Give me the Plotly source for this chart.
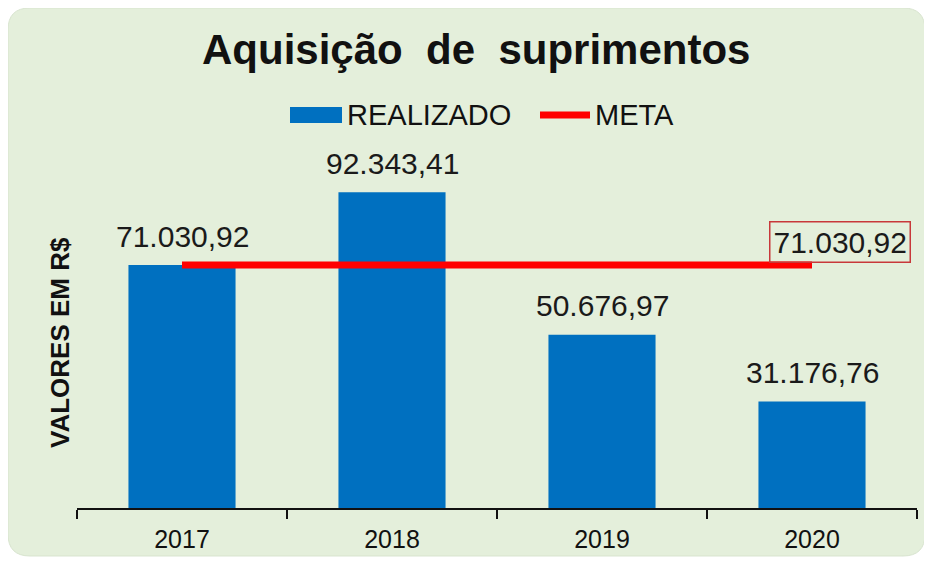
import plotly.graph_objects as go

# ---- data ----
categories = ["2017", "2018", "2019", "2020"]
realizado = [71030.92, 92343.41, 50676.97, 31176.76]
meta = [71030.92, 71030.92, 71030.92, 71030.92]

title_text = "Aquisição  de  suprimentos"
y_title = "VALORES EM R$"


def br(v):
    s = f"{v:,.2f}"
    return s.replace(",", "X").replace(".", ",").replace("X", ".")


# page body has an 8px margin: figure placed at (8, 8) of the screenshot
OFF = 8
W, H = 924, 555
L, R, T, B = 69, 15, 158, 55
PW, PH = W - L - R, H - T - B
FONT = "Liberation Sans, Arial, sans-serif"

xpos = list(range(len(categories)))
bounds = [i - 0.5 for i in range(len(categories) + 1)]


def px(x):
    # x in screenshot pixels -> paper coordinate
    return (x - OFF - L) / PW


def py(y):
    return (H - B - (y - OFF)) / PH


fig = go.Figure()
fig.add_trace(go.Bar(x=xpos, y=realizado, name="REALIZADO", width=0.51,
                     marker=dict(color="#0070c0", line=dict(width=0)),
                     showlegend=False))
fig.add_trace(go.Scatter(x=xpos, y=meta, name="META", mode="lines",
                         line=dict(color="#ff0000", width=7),
                         showlegend=False))

annotations = []
for xp, v in zip(xpos, realizado):
    annotations.append(dict(x=xp, y=v, xref="x", yref="y", text=br(v),
                            showarrow=False, yanchor="middle", yshift=29,
                            font=dict(size=30, color="#1a1a1a", family=FONT)))
# meta label (boxed)
annotations.append(dict(x=xpos[-1], y=meta[-1], xref="x", yref="y",
                        text=br(meta[-1]), showarrow=False, yanchor="middle",
                        xanchor="center", xshift=28, yshift=23,
                        bordercolor="#c8383a", borderwidth=1.5, borderpad=3,
                        font=dict(size=30, color="#1a1a1a", family=FONT)))
# title
annotations.append(dict(x=px(476), y=py(50), xref="paper", yref="paper",
                        text="<b>" + title_text + "</b>", showarrow=False,
                        xanchor="center", yanchor="middle",
                        font=dict(size=42, color="#111111", family=FONT)))
# y axis title
annotations.append(dict(x=px(60), y=py(343), xref="paper", yref="paper",
                        text="<b>" + y_title + "</b>", showarrow=False,
                        textangle=-90, xanchor="center", yanchor="middle",
                        font=dict(size=26, color="#111111", family=FONT)))
# legend texts
annotations.append(dict(x=px(345), y=py(115), xref="paper", yref="paper",
                        text="REALIZADO", showarrow=False, xanchor="left",
                        yanchor="middle",
                        font=dict(size=29, color="#111111", family=FONT)))
annotations.append(dict(x=px(593), y=py(115), xref="paper", yref="paper",
                        text="META", showarrow=False, xanchor="left",
                        yanchor="middle",
                        font=dict(size=29, color="#111111", family=FONT)))

# rounded background panel
x0, x1, y0, y1 = px(8), px(925), py(556), py(8)
rx, ry = 22 / PW, 22 / PH
path = (f"M {x0+rx:.5f},{y0:.5f} L {x1-rx:.5f},{y0:.5f} Q {x1:.5f},{y0:.5f} {x1:.5f},{y0+ry:.5f} "
        f"L {x1:.5f},{y1-ry:.5f} Q {x1:.5f},{y1:.5f} {x1-rx:.5f},{y1:.5f} "
        f"L {x0+rx:.5f},{y1:.5f} Q {x0:.5f},{y1:.5f} {x0:.5f},{y1-ry:.5f} "
        f"L {x0:.5f},{y0+ry:.5f} Q {x0:.5f},{y0:.5f} {x0+rx:.5f},{y0:.5f} Z")
shapes = [
    dict(type="path", path=path, xref="paper", yref="paper",
         fillcolor="#e4efdb", line=dict(color="#d8e4cf", width=1), layer="below"),
    dict(type="rect", xref="paper", yref="paper", x0=px(290), x1=px(342),
         y0=py(123), y1=py(107), fillcolor="#0070c0", line=dict(width=0)),
    dict(type="line", xref="paper", yref="paper", x0=px(540), x1=px(590),
         y0=py(115), y1=py(115), line=dict(color="#ff0000", width=7)),
]

fig.update_layout(
    width=W, height=H,
    margin=dict(l=L, r=R, t=T, b=B, autoexpand=False),
    paper_bgcolor="white",
    plot_bgcolor="rgba(0,0,0,0)",
    showlegend=False,
    annotations=annotations,
    shapes=shapes,
    font=dict(family=FONT, color="#111111"),
    xaxis=dict(range=[bounds[0], bounds[-1]], showline=True,
               linecolor="#111111", linewidth=2,
               tickvals=xpos, ticktext=categories, ticks="",
               ticklabelstandoff=8,
               minor=dict(tickvals=bounds, ticks="outside", ticklen=9,
                          tickwidth=2, tickcolor="#111111", showgrid=False),
               showgrid=False, zeroline=False, automargin=False,
               tickfont=dict(size=25, color="#111111", family=FONT)),
    yaxis=dict(range=[0, 100000], showgrid=False, zeroline=False,
               showticklabels=False, showline=False, ticks="",
               automargin=False),
)

fig.write_html("out.html")
